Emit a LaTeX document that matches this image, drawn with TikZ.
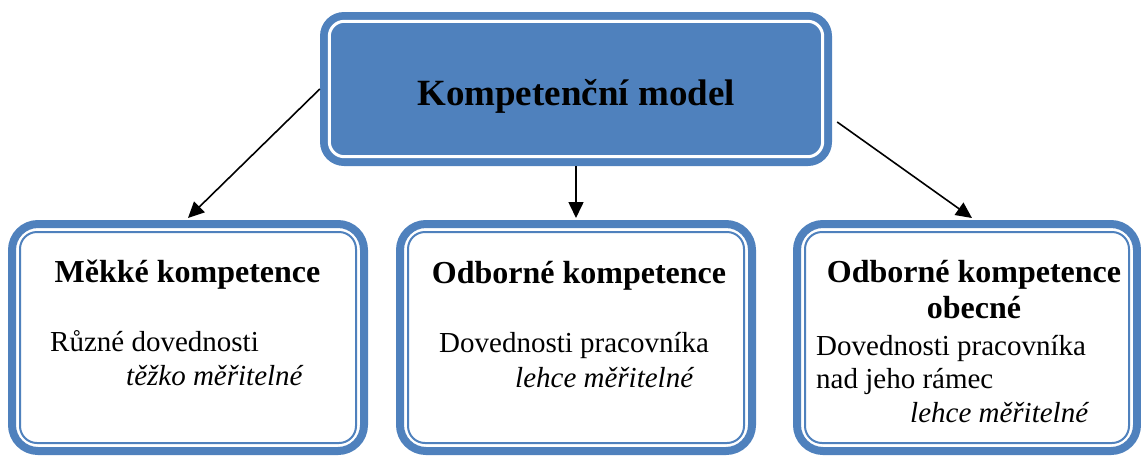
\documentclass[tikz,border=0pt]{standalone}
\usepackage{fontspec}
\setmainfont{Liberation Serif}
\usetikzlibrary{arrows.meta}
\definecolor{officeblue}{HTML}{4F81BD}
\tikzset{
  topbox/.style={fill=officeblue, draw=none, rounded corners=24pt, inner sep=0pt},
  lowbox/.style={draw=officeblue, line width=8pt, fill=white, rounded corners=26pt, inner sep=0pt},
  whiteline/.style={draw=white, line width=3pt, rounded corners=15pt},
  thinline/.style={draw=officeblue, line width=2pt, rounded corners=17pt},
  title/.style={font=\fontsize{37}{44}\selectfont\bfseries, inner sep=0pt, anchor=base},
  head/.style={font=\fontsize{32}{38}\selectfont\bfseries, inner sep=0pt, anchor=base},
  body/.style={font=\fontsize{29}{34}\selectfont, inner sep=0pt, anchor=base west},
  note/.style={font=\fontsize{29}{34}\selectfont\itshape, inner sep=0pt, anchor=base west},
  arr/.style={draw=black, line width=1.6pt, -{Triangle[length=16pt,width=15pt]}}
}
\begin{document}
\begin{tikzpicture}[x=1pt,y=-1pt]
  \useasboundingbox (0,0) rectangle (1141,456);

  % top box
  \node[topbox, minimum width=512pt, minimum height=154pt] (model) at (576,89) {};
  \draw[whiteline] ([xshift=9.5pt,yshift=-9.5pt]model.north west) rectangle ([xshift=-9.5pt,yshift=9.5pt]model.south east);
  \node[title] (modelt) at (576,105) {Kompetenční model};

  % lower boxes: thick outer border and a thin inner line
  % (anchors sit on the outer edge of the thick border)
  \node[lowbox, minimum width=352pt, minimum height=227pt] (soft) at (188,337.5) {};
  \node[lowbox, minimum width=352pt, minimum height=227pt] (prof) at (576,337.5) {};
  \node[lowbox, minimum width=340pt, minimum height=227pt] (gen) at (967,337.5) {};
  \draw[thinline] ([xshift=12pt,yshift=-12pt]soft.north west) rectangle ([xshift=-12pt,yshift=12pt]soft.south east);
  \draw[thinline] ([xshift=12pt,yshift=-12pt]prof.north west) rectangle ([xshift=-12pt,yshift=12pt]prof.south east);
  \draw[thinline] ([xshift=12pt,yshift=-12pt]gen.north west) rectangle ([xshift=-12pt,yshift=12pt]gen.south east);

  % texts of the lower boxes
  \node[head] (softh) at (187.5,282) {Měkké kompetence};
  \node[body] (softb) at (50,351) {Různé dovednosti};
  \node[note] (softn) at (126,385) {těžko měřitelné};

  \node[head] (profh) at (579,283) {Odborné kompetence};
  \node[body] (profb) at (439,352) {Dovednosti pracovníka};
  \node[note] (profn) at (515,387) {lehce měřitelné};

  \node[head] (genh) at (974,282) {Odborné kompetence};
  \node[head] (genh2) at (974,318) {obecné};
  \node[body] (genb) at (816,355) {Dovednosti pracovníka};
  \node[body] (genb2) at (816,388) {nad jeho rámec};
  \node[note] (genn) at (910,422) {lehce měřitelné};

  % connectors
  \coordinate (rstart) at ([xshift=5pt,yshift=-33pt]model.east);
  \draw[arr] (model.west) -- ([yshift=2pt]soft.north);
  \draw[arr] (model.south) -- ([yshift=2pt]prof.north);
  \draw[arr] (rstart) -- ([xshift=5pt,yshift=2pt]gen.north);
\end{tikzpicture}
\end{document}
